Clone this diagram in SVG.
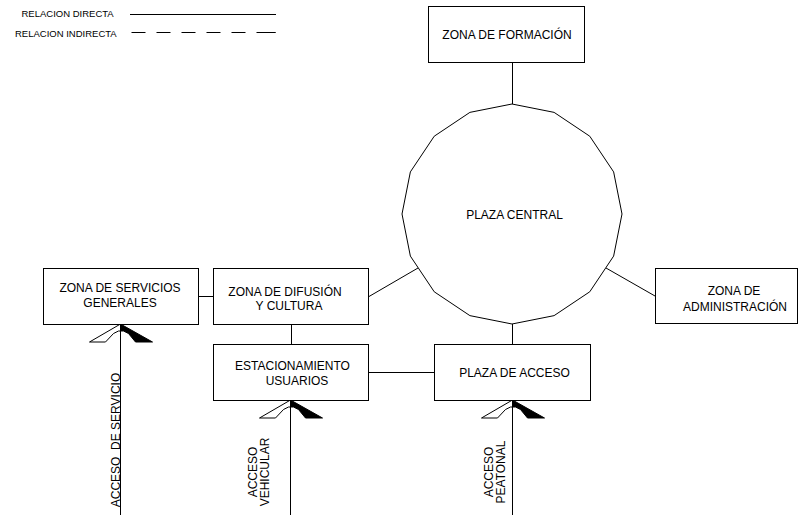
<svg xmlns="http://www.w3.org/2000/svg" xmlns:xlink="http://www.w3.org/1999/xlink" width="798" height="515" viewBox="0 0 798 515">
<style>
.box{fill:#fff;stroke:#000;stroke-width:1}
.ln{fill:none;stroke:#000;stroke-width:1}
.dash{fill:none;stroke:#000;stroke-width:1;stroke-dasharray:14 11 14 11 14 11 14 11 14 11 19 0}
text{font-family:"Liberation Sans",Arial,sans-serif;font-size:12px;fill:#000;text-anchor:middle}
.leg{font-size:9.5px;text-anchor:start}
</style>
<defs>
<g id="acc">
<path d="M0,0 L-31,18 L-15,18 L-7,9.5 L-2,7 L0,7 Z" fill="#fff" stroke="#000" stroke-width="1"/>
<path d="M0,0 L32,18 L15,18 L8,9.5 L3,7 L0,7 Z" fill="#000" stroke="#000" stroke-width="1"/>
</g>
</defs>
<rect width="798" height="515" fill="#fff"/>
<g id="legend">
<text class="leg" x="21.5" y="16.5">RELACION DIRECTA</text>
<text class="leg" x="15" y="36.5">RELACION INDIRECTA</text>
<line class="ln" x1="130" y1="14.5" x2="276" y2="14.5"/>
<line class="dash" x1="131.5" y1="32.5" x2="276" y2="32.5"/>
</g>
<g id="connectors">
<line class="ln" x1="512.5" y1="62" x2="512.5" y2="104"/>
<line class="ln" x1="418" y1="268" x2="369" y2="296.5"/>
<line class="ln" x1="606" y1="268" x2="655" y2="296"/>
<line class="ln" x1="512.5" y1="324" x2="512.5" y2="344"/>
<line class="ln" x1="198" y1="296.5" x2="213" y2="296.5"/>
<line class="ln" x1="291.5" y1="324" x2="291.5" y2="344"/>
<line class="ln" x1="369" y1="372.5" x2="434" y2="372.5"/>
<use xlink:href="#acc" x="120.5" y="324"/>
<line class="ln" x1="120.5" y1="324" x2="120.5" y2="515"/>
<use xlink:href="#acc" x="290.5" y="400"/>
<line class="ln" x1="290.5" y1="400" x2="290.5" y2="515"/>
<use xlink:href="#acc" x="512.5" y="400"/>
<line class="ln" x1="512.5" y1="400" x2="512.5" y2="515"/>
</g>
<g id="zona-formacion">
<rect class="box" x="428.5" y="6.5" width="156" height="56"/>
<text x="507" y="39">ZONA DE FORMACIÓN</text>
</g>
<g id="plaza-central">
<polygon class="box" points="512,104 554.09,112.37 589.78,136.22 613.63,171.91 622,214 613.63,256.09 589.78,291.78 554.09,315.63 512,324 469.91,315.63 434.22,291.78 410.37,256.09 402,214 410.37,171.91 434.22,136.22 469.91,112.37"/>
<text x="514.5" y="219">PLAZA CENTRAL</text>
</g>
<g id="zona-servicios">
<rect class="box" x="43.5" y="268.5" width="155" height="56"/>
<text x="120" y="292">ZONA DE SERVICIOS</text>
<text x="120" y="306.5">GENERALES</text>
</g>
<g id="zona-difusion">
<rect class="box" x="213.5" y="268.5" width="155" height="56"/>
<text x="285" y="295.5">ZONA DE DIFUSIÓN</text>
<text x="289" y="310">Y CULTURA</text>
</g>
<g id="zona-administracion">
<rect class="box" x="655.5" y="268.5" width="142" height="55"/>
<text x="734" y="295">ZONA DE</text>
<text x="735" y="310.5">ADMINISTRACIÓN</text>
</g>
<g id="estacionamiento">
<rect class="box" x="213.5" y="344.5" width="155" height="56"/>
<text x="292.5" y="370">ESTACIONAMIENTO</text>
<text x="297" y="384.5">USUARIOS</text>
</g>
<g id="plaza-acceso">
<rect class="box" x="434.5" y="344.5" width="156" height="56"/>
<text x="514.5" y="376.5">PLAZA DE ACCESO</text>
</g>
<g id="acceso-servicio">
<text transform="translate(119.5,440) rotate(-90)" xml:space="preserve">ACCESO  DE SERVICIO</text>
</g>
<g id="acceso-vehicular">
<text transform="translate(256.5,472) rotate(-90)">ACCESO</text>
<text transform="translate(269,472) rotate(-90)">VEHICULAR</text>
</g>
<g id="acceso-peatonal">
<text transform="translate(492.5,472) rotate(-90)">ACCESO</text>
<text transform="translate(504.5,472) rotate(-90)">PEATONAL</text>
</g>
</svg>
